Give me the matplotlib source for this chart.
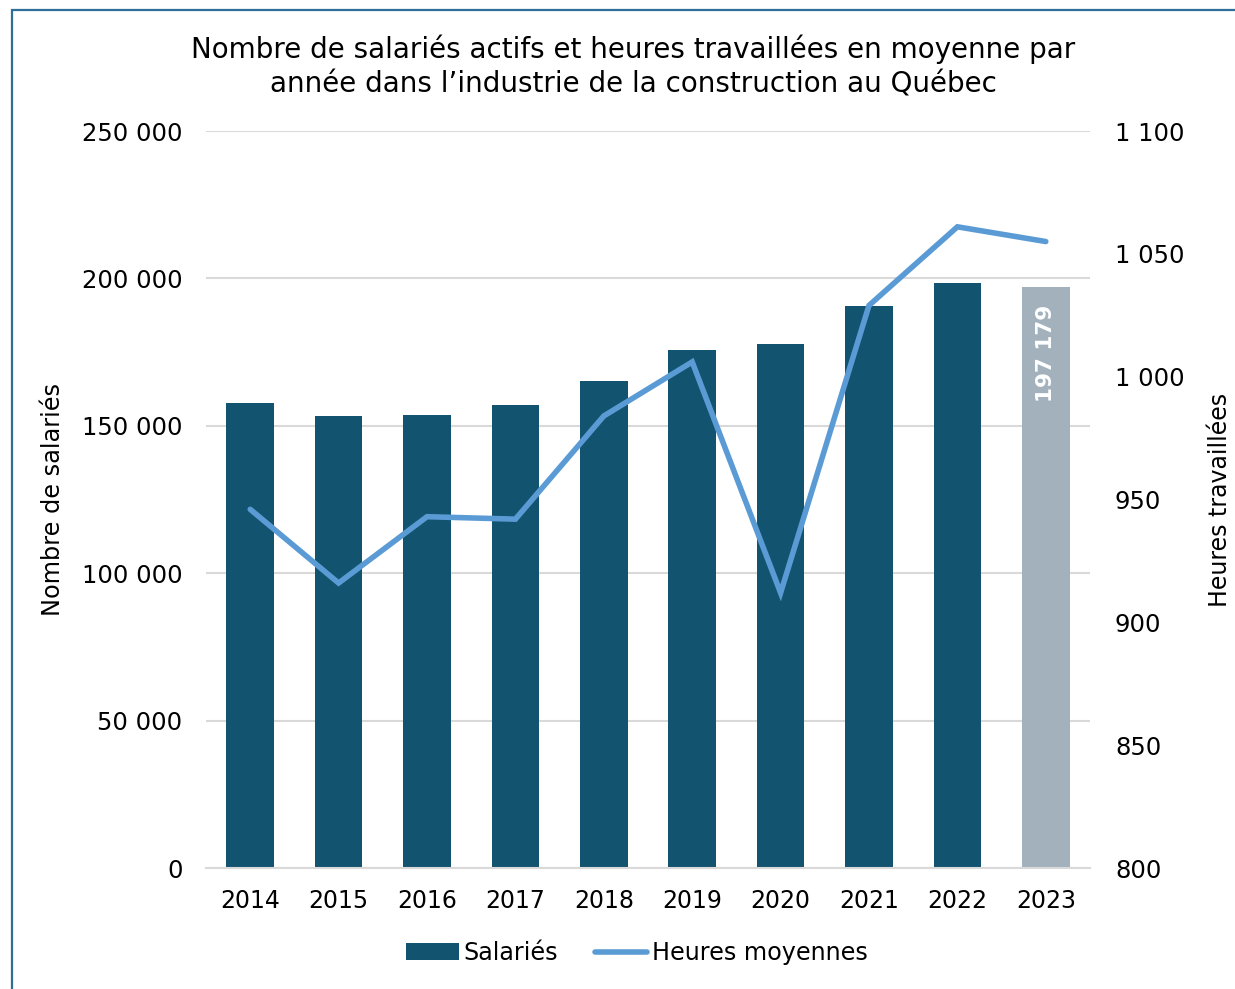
import matplotlib
matplotlib.use("Agg")
import matplotlib.pyplot as plt
from matplotlib.patches import Rectangle
from matplotlib.ticker import FuncFormatter

years = ["2014", "2015", "2016", "2017", "2018", "2019", "2020", "2021", "2022", "2023"]
salaries = [157700, 153300, 153700, 157100, 165200, 175700, 177700, 190600, 198300, 197179]
heures = [946, 916, 943, 942, 984, 1006, 912, 1029, 1061, 1055]
left_ticks = [0, 50000, 100000, 150000, 200000, 250000]
right_ticks = [800, 850, 900, 950, 1000, 1050, 1100]

plt.rcParams['font.family'] = ['DejaVu Sans']

def fmt(v, pos=None):
    return f"{int(round(v)):,}".replace(",", " ")

fig = plt.figure(figsize=(12.35, 9.89), dpi=100)
ax = fig.add_axes([206/1235, 1-868/989, (1090-206)/1235, (868-131)/989])

bar_colors = ["#12536F"] * 9 + ["#A3B1BC"]
x = list(range(len(years)))
bars = ax.bar(x, salaries, width=0.54, color=bar_colors, zorder=2, label="Salariés")
ax.set_ylim(0, 250000)
ax.set_xlim(-0.5, len(years) - 0.5)
ax.set_yticks(left_ticks)
ax.yaxis.set_major_formatter(FuncFormatter(fmt))
ax.grid(axis='y', color='#D9D9D9', linewidth=1.5, zorder=0)
ax.set_axisbelow(True)
for s in ['top', 'right', 'left']:
    ax.spines[s].set_visible(False)
ax.spines['bottom'].set_color('#D9D9D9')
ax.spines['bottom'].set_linewidth(1.5)
ax.tick_params(axis='y', length=0, labelsize=17.5, pad=17)
ax.tick_params(axis='x', length=0, labelsize=17, pad=15)
ax.set_xticks(x)
ax.set_xticklabels(years)
ax.set_ylabel("Nombre de salariés", fontsize=17.3, labelpad=12)

# value label on 2023 bar
ax.text(x[-1], salaries[-1] - 6000, fmt(salaries[-1]), rotation=90, ha='center', va='top',
        color='white', fontsize=15.5, fontweight='bold', zorder=5)

ax2 = ax.twinx()
ax2.plot(x, heures, color="#5B9BD5", linewidth=4.0, solid_capstyle='round',
         solid_joinstyle='miter', zorder=3, label="Heures moyennes")
ax2.set_ylim(800, 1100)
ax2.set_yticks(right_ticks)
ax2.yaxis.set_major_formatter(FuncFormatter(fmt))
ax2.tick_params(axis='y', length=0, labelsize=17.5, pad=18)
for s in ['top', 'right', 'left', 'bottom']:
    ax2.spines[s].set_visible(False)
ax2.set_ylabel("Heures travaillées", fontsize=17, labelpad=17)

fig.suptitle("Nombre de salariés actifs et heures travaillées en moyenne par\nannée dans l’industrie de la construction au Québec",
             x=633/1235, y=1-34/989, fontsize=20, va='top', linespacing=1.3)

h1, l1 = ax.get_legend_handles_labels()
h2, l2 = ax2.get_legend_handles_labels()
fig.legend([h1[0], h2[0]], ["Salariés", "Heures moyennes"], loc='center',
           bbox_to_anchor=(637/1235, 1-953/989), ncol=2, frameon=False, fontsize=17.2,
           handlelength=2.2, handletextpad=0.2, columnspacing=1.55, handleheight=0.7)

# outer border (only top and left visible in the crop)
fig.patches.append(Rectangle((12/1235, -0.05), 1.2, 1-10/989 + 0.05, transform=fig.transFigure,
                             fill=False, edgecolor='#2E6E99', linewidth=1.6, zorder=10))

fig.savefig("out.png", dpi=100)
